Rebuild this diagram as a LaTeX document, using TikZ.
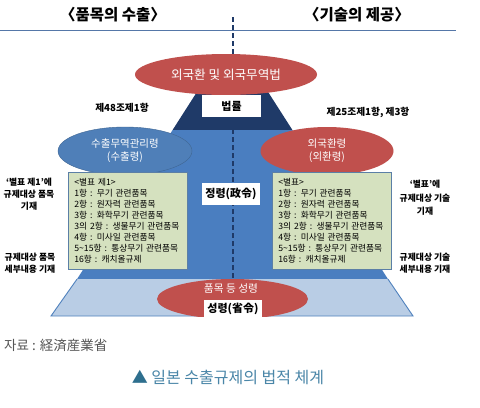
\documentclass[tikz,border=0pt]{standalone}
\usepackage{fontspec}
\setmainfont{Noto Sans CJK KR}
\usetikzlibrary{shapes.geometric}
\definecolor{navy}{HTML}{1F3A68}
\definecolor{midblue}{HTML}{4A7EC0}
\definecolor{lightblue}{HTML}{B9CDE5}
\definecolor{edgeblue}{HTML}{4F81BD}
\definecolor{redell}{HTML}{C0504D}
\definecolor{blueell}{HTML}{4F7FB8}
\definecolor{greenbox}{HTML}{D5E1BF}
\definecolor{greenedge}{HTML}{5B7FA6}
\definecolor{linecol}{HTML}{5577A8}
\definecolor{capcol}{HTML}{4A86A8}
\definecolor{tricol}{HTML}{2E6F8E}
\definecolor{srcgray}{HTML}{555555}
\tikzset{
  fs/.style={font=\fontsize{#1bp}{#1bp}\selectfont},
  titletext/.style={font=\fontsize{15.5bp}{18bp}\selectfont\bfseries},
  ell/.style={ellipse, inner sep=0pt, text=white, align=center},
  whitebox/.style={rectangle, fill=white, inner sep=0pt, font=\fontsize{11bp}{13bp}\selectfont\bfseries},
  gbox/.style={rectangle, draw=greenedge, line width=0.6bp, fill=greenbox, anchor=north west,
    minimum width=119bp, minimum height=97bp, text width=107bp, inner xsep=6bp, inner ysep=0pt,
    align=left, font=\fontsize{8.7bp}{11bp}\selectfont},
  sidelab/.style={align=center, inner sep=0pt, font=\fontsize{8.8bp}{12bp}\selectfont\bfseries},
  artlab/.style={inner sep=0pt, font=\fontsize{9.7bp}{12bp}\selectfont\bfseries},
}
\begin{document}
\begin{tikzpicture}[x=1bp,y=-1bp]
\useasboundingbox[fill=white] (0,0) rectangle (480,407);

% titles and rule
\node[titletext] (t1) at (113,15) {〈품목의 수출〉};
\node[titletext] (t2) at (357,15) {〈기술의 제공〉};
\coordinate (hl) at (0,30);
\coordinate (hr) at (456,30);
\draw[linecol, line width=0.8bp] (hl) -- (hr);

% pyramid
\fill[navy] (204.6,80) -- (260.4,80) -- (292.4,130) -- (172.6,130) -- cycle;
\fill[midblue] (172.6,130) -- (292.4,130) -- (387.9,279) -- (77.1,279) -- cycle;
\fill[lightblue] (77.1,279) -- (387.9,279) -- (413,316) -- (51,316) -- cycle;
\draw[edgeblue, line width=0.9bp] (77.1,279) -- (51,316) -- (413,316) -- (387.9,279);

% dashed axis
\coordinate (dtop) at (232.5,17);
\coordinate (dbot) at (232.5,279);
\draw[navy, line width=2bp, dash pattern=on 5bp off 3bp] (dtop) -- (dbot);

% top law ellipse
\node[ell, fill=redell, minimum width=182bp, minimum height=41bp, fs=12.6] (law) at (226,74.5) {외국환 및 외국무역법};
\node[whitebox, minimum width=59bp, minimum height=22bp] (beob) at (231.5,106) {법률};

% article labels
\node[artlab] (a48) at (122,108) {제48조제1항};
\node[artlab] (a25) at (368,112) {제25조제1항, 제3항};

% ordinance ellipses
\node[ell, fill=blueell, draw=blueell!80!black, line width=0.4bp, minimum width=134bp, minimum height=48bp, font=\fontsize{10.5bp}{13bp}\selectfont] (exo) at (125,151) {수출무역관리령\\(수출령)};
\node[ell, fill=redell, minimum width=133bp, minimum height=48bp, font=\fontsize{10.5bp}{13bp}\selectfont] (fxo) at (327,151) {외국환령\\(외환령)};

% green boxes
\node[gbox] (lbox) at (68,172) {<별표 제1>\\1항 : 무기 관련품목\\2항 : 원자력 관련품목\\3항 : 화학무기 관련품목\\3의 2항 : 생물무기 관련품목\\4항 : 미사일 관련품목\\5\textasciitilde15항 : 통상무기 관련품목\\16항 : 캐치올규제};
\node[gbox] (rbox) at (272,172) {<별표>\\1항 : 무기 관련품목\\2항 : 원자력 관련품목\\3항 : 화학무기 관련품목\\3의 2항 : 생물무기 관련품목\\4항 : 미사일 관련품목\\5\textasciitilde15항 : 통상무기 관련품목\\16항 : 캐치올규제};

\node[whitebox, minimum width=58bp, minimum height=22bp] (jeong) at (231,194) {정령(政令)};

% side labels
\node[sidelab] (ls1) at (29,194) {‘별표 제1’에\\규제대상 품목\\기재};
\node[sidelab] (ls2) at (30,263.5) {규제대상 품목\\세부내용 기재};
\node[sidelab, font=\fontsize{8.8bp}{13.5bp}\selectfont\bfseries] (rs1) at (425,198) {‘별표’에\\규제대상 기술\\기재};
\node[sidelab] (rs2) at (425,263.5) {규제대상 기술\\세부내용 기재};

% bottom ellipse
\begin{scope}
\clip (0,0) rectangle (480,316);
\node[ell, fill=redell, minimum width=151bp, minimum height=40bp] (pum) at (232.5,299) {};
\end{scope}
\node[text=white, inner sep=0pt, fs=10.7] (pumt) at (231,288.5) {품목 등 성령};
\node[whitebox, minimum width=58bp, minimum height=17bp] (seong) at (233,308.5) {성령(省令)};

% source and caption
\node[anchor=west, inner sep=0pt, text=srcgray, fs=13.5] (src) at (4,345) {자료 : 経済産業省};
\node[inner sep=0pt, text=capcol, fs=16] (cap) at (228,377) {\textcolor{tricol}{▲} 일본 수출규제의 법적 체계};
\end{tikzpicture}
\end{document}
